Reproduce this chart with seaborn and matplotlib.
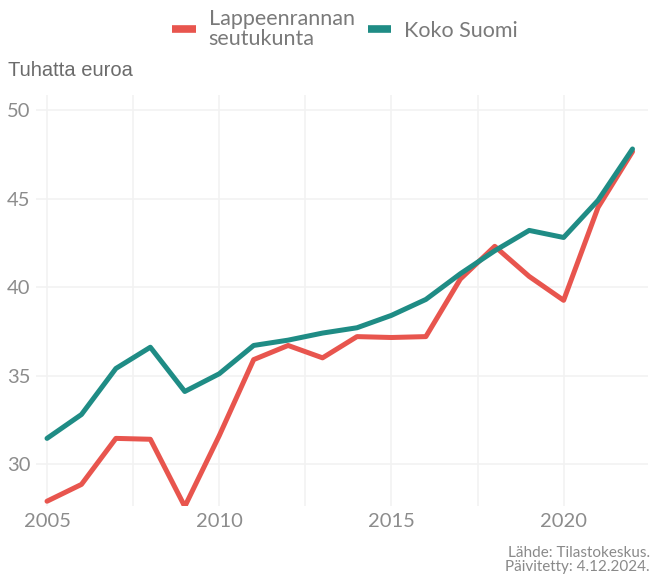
import numpy as np
import pandas as pd
import matplotlib
matplotlib.use("Agg")
import matplotlib.pyplot as plt
import seaborn as sns
from matplotlib.lines import Line2D

years = list(range(2005, 2023))
lappeenranta = [27.9, 28.85, 31.45, 31.4, 27.6, 31.6, 35.9, 36.7, 36.0, 37.2, 37.15, 37.2,
                40.45, 42.3, 40.6, 39.25, 44.5, 47.65]
koko_suomi = [31.45, 32.8, 35.4, 36.6, 34.1, 35.1, 36.7, 37.0, 37.4, 37.7, 38.4, 39.3,
              40.75, 42.05, 43.2, 42.8, 44.9, 47.8]
series_names = ["Lappeenrannan\nseutukunta", "Koko Suomi"]
colors = ["#E8554E", "#1F8C85"]

df = pd.DataFrame({
    "year": years * 2,
    "value": lappeenranta + koko_suomi,
    "series": [series_names[0]] * len(years) + [series_names[1]] * len(years),
})

sns.set_theme(style="white")
plt.rcParams['font.family'] = ['Lato', 'DejaVu Sans']

fig = plt.figure(figsize=(6.51, 5.79), dpi=100)
ax = fig.add_axes([36 / 651, 1 - 506 / 579, (648 - 36) / 651, (506 - 95) / 579])

sns.lineplot(data=df, x="year", y="value", hue="series", palette=colors,
             hue_order=series_names, linewidth=3.6, ax=ax, legend=False)

ax.set_xlim(2004.68, 2022.45)
ax.set_ylim(27.63, 50.85)
ax.set_xticks([2005, 2010, 2015, 2020])
ax.set_xticks([2007.5, 2012.5, 2017.5], minor=True)
ax.set_yticks([30, 35, 40, 45, 50])
ax.grid(True, which="major", color="#F2F2F2", linewidth=1.2)
ax.grid(True, which="minor", axis="x", color="#F2F2F2", linewidth=1.2)
ax.set_axisbelow(True)
for s in ax.spines.values():
    s.set_visible(False)
ax.tick_params(axis="both", which="both", length=0, labelsize=14.5, labelcolor="#8c8c8c")
ax.tick_params(axis="x", pad=5)
ax.tick_params(axis="y", pad=4)
ax.set_xlabel("")
ax.set_ylabel("")

fig.text(8 / 651, 1 - 70 / 579, "Tuhatta euroa", fontsize=14.5, color="#6b6b6b",
         family="Liberation Sans", va="center", ha="left")

handles = [Line2D([0], [0], color=c, linewidth=5.5, solid_capstyle="butt") for c in colors]
leg = fig.legend(handles, series_names, loc="center", bbox_to_anchor=(0.53, 1 - 29 / 579),
                 ncol=2, frameon=False, fontsize=15.5, handlelength=1.1, handletextpad=0.6,
                 columnspacing=0.6)
for t in leg.get_texts():
    t.set_color("#7a7a7a")
    t.set_linespacing(1.0)

fig.text(650 / 651, 1 - 560 / 579, "Lähde: Tilastokeskus.\nPäivitetty: 4.12.2024.",
         fontsize=11, color="#8a8a8a", ha="right", va="center", linespacing=1.05)

fig.savefig("out.png", dpi=100)
